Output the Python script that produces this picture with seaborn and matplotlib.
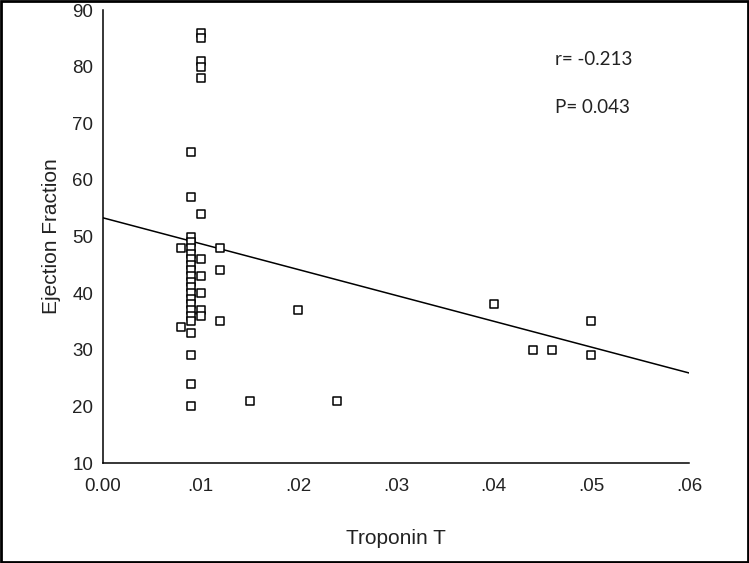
import numpy as np
import pandas as pd
import matplotlib
matplotlib.use('Agg')
import matplotlib.pyplot as plt
import seaborn as sns

# troponin T vs ejection fraction
trop = [0.010, 0.010, 0.010, 0.010, 0.010, 0.009, 0.009, 0.010,
        0.009, 0.009, 0.009, 0.009, 0.009, 0.009, 0.009, 0.009, 0.009,
        0.009, 0.009, 0.009, 0.009, 0.009, 0.009, 0.009, 0.009,
        0.008, 0.012, 0.010, 0.012, 0.010, 0.010, 0.010, 0.010, 0.012, 0.008,
        0.009, 0.009, 0.009, 0.015, 0.024, 0.020,
        0.040, 0.044, 0.046, 0.050, 0.050]
ef = [86, 85, 81, 80, 78, 65, 57, 54,
      50, 49, 48, 47, 46, 45, 44, 43, 42,
      41, 40, 39, 38, 37, 36, 35, 33,
      48, 48, 46, 44, 43, 40, 37, 36, 35, 34,
      29, 24, 20, 21, 21, 37,
      38, 30, 30, 35, 29]

# fitted line end points (as drawn)
fit_x = [0.0, 0.06]
fit_y = [53.3, 25.9]

x_ticks = [0.0, 0.01, 0.02, 0.03, 0.04, 0.05, 0.06]
x_labels = ['0.00', '.01', '.02', '.03', '.04', '.05', '.06']
y_ticks = [10, 20, 30, 40, 50, 60, 70, 80, 90]

stats_text = ['r= -0.213', 'P= 0.043']

sns.set_style('white')
plt.rcParams['font.family'] = ['Liberation Sans', 'DejaVu Sans']

df = pd.DataFrame({'trop': trop, 'ef': ef})

fig = plt.figure(figsize=(7.49, 5.63), dpi=100)
ax = fig.add_axes([0.1375, 0.1776, 0.7825, 0.8046])

sns.lineplot(x=fit_x, y=fit_y, ax=ax, color='black', linewidth=1.1)
sns.scatterplot(data=df, x='trop', y='ef', ax=ax, marker='s', s=32,
                facecolor='white', edgecolor='black', linewidth=1.1, zorder=3)

ax.set_xlim(0, 0.06)
ax.set_ylim(10, 90)
ax.set_xticks(x_ticks)
ax.set_xticklabels(x_labels)
ax.set_yticks(y_ticks)
ax.tick_params(axis='both', direction='out', length=5, width=1, color='black',
               labelsize=13.5, labelcolor='#222222')
ax.tick_params(axis='x', pad=5.5)
ax.tick_params(axis='y', pad=2)
for side in ['top', 'right']:
    ax.spines[side].set_visible(False)
for side in ['left', 'bottom']:
    ax.spines[side].set_color('black')
    ax.spines[side].set_linewidth(1.1)

ax.set_xlabel('Troponin T', fontsize=15, color='#222222', labelpad=25)
ax.set_ylabel('Ejection Fraction', fontsize=15, color='#222222', labelpad=8)

ax.text(0.0463, 81.3, stats_text[0], fontsize=13.5, family=['Lato', 'DejaVu Sans'],
        va='center', color='#222222')
ax.text(0.0463, 72.7, stats_text[1], fontsize=13.5, family=['Lato', 'DejaVu Sans'],
        va='center', color='#222222')

# frame around the whole picture
fig.patches.append(plt.Rectangle((0.0015, 0.002), 0.997, 0.996, transform=fig.transFigure,
                                 fill=False, edgecolor='black', linewidth=2))

fig.savefig('out.png', dpi=100)
